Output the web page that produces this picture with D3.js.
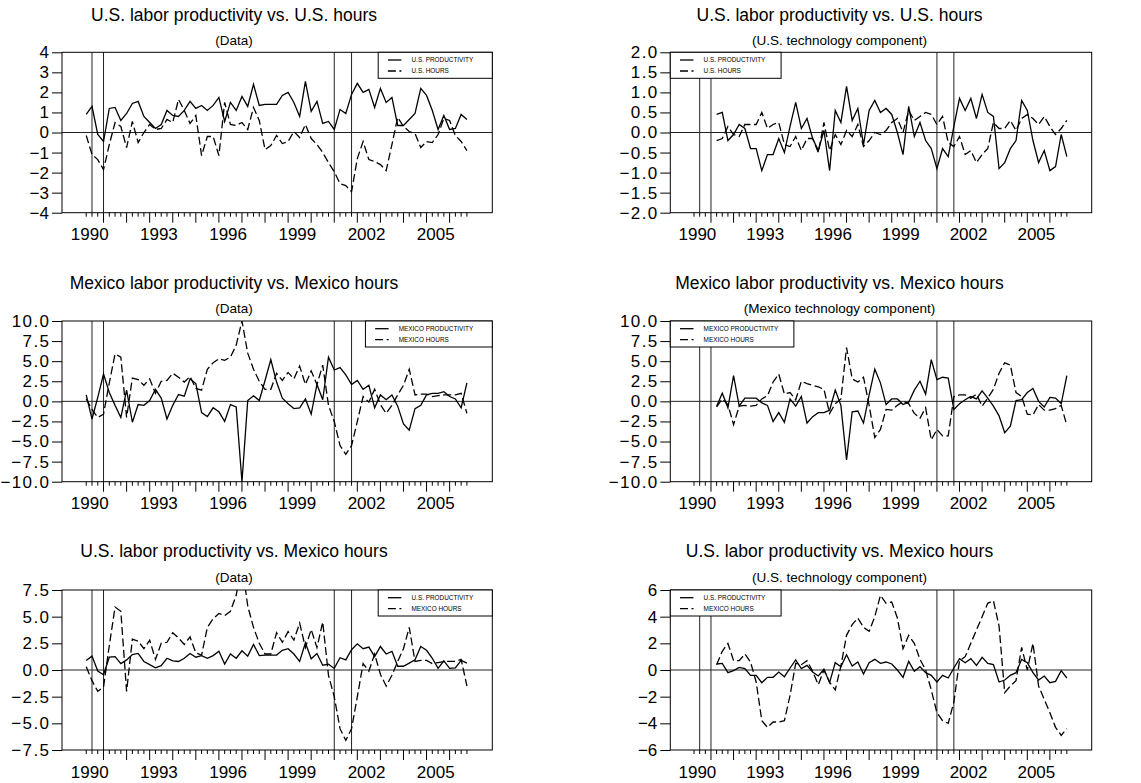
<!DOCTYPE html>
<html>
<head>
<meta charset="utf-8">
<script src="https://cdn.jsdelivr.net/npm/d3@7"></script>
<style>
  body { margin: 0; background: #fff; }
  svg { display: block; font-family: "Liberation Sans", Arial, Helvetica, sans-serif; }
</style>
</head>
<body>
<svg id="chart" width="1141" height="783"></svg>
<script>
// quarterly series, Data panels start 1990Q2, technology-component panels 1991Q2
const dataStart = 1990.25;
const techStart = 1991.25;

const yearLabels = ["1990", "1993", "1996", "1999", "2002", "2005"];
const recessionDates = [1990.5, 1991.0, 2001.0, 2001.75];

const yTicksUsData = [-4, -3, -2, -1, 0, 1, 2, 3, 4];
const yTicksUsTech = [-2.0, -1.5, -1.0, -0.5, 0.0, 0.5, 1.0, 1.5, 2.0];
const yTicksMx = [-10.0, -7.5, -5.0, -2.5, 0.0, 2.5, 5.0, 7.5, 10.0];
const yTicksMix = [-7.5, -5.0, -2.5, 0.0, 2.5, 5.0, 7.5];
const yTicksMixTech = [-6, -4, -2, 0, 2, 4, 6];

const usProd = [0.9, 1.3, -0.1, -0.45, 1.2, 1.25, 0.6, 0.95, 1.45, 1.55,
  0.8, 0.5, 0.2, 0.4, 1.1, 0.85, 0.8, 1.1, 1.55, 1.2,
  1.35, 1.1, 1.35, 1.75, 0.55, 1.5, 1.1, 1.8, 1.3, 2.4,
  1.35, 1.4, 1.4, 1.4, 1.85, 2.0, 1.5, 0.8, 2.55, 1.05,
  1.55, 0.45, 0.55, 0.15, 1.15, 0.95, 1.9, 2.45, 2.0, 2.15,
  1.25, 2.2, 1.5, 1.75, 0.35, 0.35, 0.65, 0.95, 2.2, 1.85,
  1.1, 0.15, 0.85, 0.15, 0.2, 0.9, 0.65];

const usHours = [-0.15, -1.1, -1.35, -1.85, -0.6, 0.5, 0.3, -0.75, 0.55, -0.5,
  0.0, 0.4, 0.15, 0.2, 0.65, 0.5, 1.65, 1.1, 0.45, 0.85,
  -1.15, -0.2, -0.2, -1.15, 1.5, 0.4, 0.35, 0.5, 0.15, 1.25,
  0.6, -0.85, -0.65, -0.15, -0.55, -0.45, 0.05, -0.25, 0.4, -0.3,
  -0.6, -1.0, -1.5, -1.95, -2.55, -2.65, -2.95, -1.3, -0.45, -1.35,
  -1.45, -1.6, -1.9, -0.6, 0.75, 0.3, 0.05, -0.05, -0.75, -0.45,
  -0.5, -0.1, 0.7, 0.6, -0.15, -0.45, -0.9];

const mxProd = [0.8, -2.2, 0.5, 3.4, 1.1, -0.5, -2.0, 1.4, -2.6, -0.4,
  -0.5, 0.1, 1.5, 0.4, -2.2, -0.5, 0.85, 0.65, 2.8, 2.2,
  -1.4, -1.9, -0.8, -1.3, -2.5, -0.4, -0.7, -10.0, 0.1, 0.7,
  0.1, 2.6, 5.2, 2.4, 0.4, -0.3, -0.9, -0.8, 0.3, -1.6,
  2.1, 0.2, 5.5, 3.9, 4.2, 3.3, 2.1, 2.6, 1.5, 2.0,
  -0.8, 0.8, 0.2, 0.8, -0.6, -2.8, -3.6, -0.9, -0.5, 0.8,
  1.0, 1.0, 1.2, 0.6, 0.3, -0.8, 2.3];

const mxHours = [0.3, -1.0, -2.0, -1.6, 2.3, 5.9, 5.5, -2.0, 2.9, 2.7,
  2.0, 2.8, 1.0, 2.5, 2.6, 3.5, 3.0, 2.4, 3.1, 1.6,
  1.4, 4.0, 4.8, 5.3, 5.1, 5.5, 7.0, 10.0, 6.0, 4.0,
  2.5, 1.5, 1.5, 3.5, 2.6, 3.6, 2.8, 4.4, 2.1, 3.8,
  2.1, 4.5, -0.5, -2.5, -5.5, -6.6, -5.5, -2.5, 0.6, -0.1,
  1.5, -0.4, -1.5, -0.5, 0.8, 2.0, 4.0, 0.8, 0.9, 0.9,
  0.6, 0.7, 0.8, 0.8, 0.8, 1.0, -1.5];

const usProdTech = [0.45, 0.5, -0.2, -0.05, 0.2, 0.1, -0.4, -0.4, -0.95, -0.55,
  -0.55, -0.15, -0.5, 0.15, 0.75, 0.1, 0.35, -0.15, -0.45, 0.05,
  -0.95, 0.55, 0.25, 1.15, 0.3, 0.6, -0.3, 0.55, 0.8, 0.5,
  0.6, 0.45, 0.0, -0.55, 0.65, -0.1, 0.25, -0.2, -0.4, -0.9,
  -0.4, -0.6, 0.15, 0.85, 0.55, 0.85, 0.35, 0.95, 0.5, 0.4,
  -0.9, -0.75, -0.4, -0.2, 0.8, 0.55, -0.2, -0.75, -0.45, -0.95,
  -0.85, -0.05, -0.6];

const usHoursTech = [-0.2, -0.15, 0.15, -0.05, -0.1, 0.2, 0.2, 0.2, 0.5, 0.1,
  0.2, 0.25, -0.3, -0.35, -0.1, -0.45, -0.15, -0.15, -0.5, 0.25,
  -0.45, -0.05, -0.3, 0.05, -0.1, 0.2, -0.35, -0.2, 0.0, -0.05,
  0.05, 0.25, 0.35, 0.0, 0.55, 0.3, 0.4, 0.5, 0.45, 0.2,
  0.4, -0.25, -0.35, -0.1, -0.55, -0.45, -0.75, -0.55, -0.4, 0.25,
  0.1, 0.1, 0.3, 0.05, 0.35, 0.45, 0.35, 0.2, 0.4, 0.15,
  -0.05, 0.1, 0.3];

const mxProdTech = [-0.6, 1.0, -0.8, 3.2, -0.6, 0.4, 0.4, 0.4, -0.2, -0.5,
  -2.5, -1.4, -2.6, 0.3, -0.6, 0.6, -2.7, -1.9, -1.4, -1.4,
  -1.1, 1.4, -0.5, -7.3, -1.3, -1.2, -2.7, 0.8, 4.0, 2.3,
  -0.4, 0.3, 0.3, -0.4, -0.1, 1.4, 2.5, 0.9, 5.2, 2.7,
  3.0, 2.9, -1.0, -0.3, 0.2, 0.6, 0.3, 1.3, 0.4, -0.6,
  -1.8, -3.9, -3.1, 0.1, 0.2, 1.1, 1.6, 0.0, -0.7, 0.5,
  0.4, -0.3, 3.2];

const mxHoursTech = [-0.7, 0.3, -0.4, -2.9, -0.6, -0.5, -0.6, -0.5, 0.3, 0.7,
  2.4, 3.4, 0.9, 1.1, 0.2, 2.5, 2.2, 2.0, 1.8, 1.5,
  -1.5, -0.3, 0.3, 6.7, 2.8, 2.4, 3.0, -0.5, -4.5, -3.5,
  -1.0, -1.1, -0.5, 0.0, -0.3, -1.5, -2.1, -0.8, -4.8, -3.5,
  -4.3, -4.3, 0.6, 0.8, 0.8, 0.4, 0.9, -0.6, 0.4, 1.5,
  3.5, 4.8, 4.5, 1.1, 0.6, -1.6, -1.7, -0.4, -1.1, -1.1,
  -0.9, -0.5, -3.0];

const mxHoursUsTech = [0.4, 1.4, 2.0, 0.7, 0.7, 1.2, 0.6, -0.9, -3.8, -4.3,
  -3.9, -3.9, -3.8, -1.9, 0.5, 0.4, 0.7, -0.1, -1.1, 0.0,
  -0.9, -1.5, 0.3, 2.6, 3.4, 3.9, 3.2, 2.9, 4.0, 5.6,
  5.0, 5.1, 3.9, 1.6, 2.6, 2.0, 0.8, 0.0, -1.5, -3.2,
  -3.8, -4.0, -2.4, 0.7, 1.0, 2.0, 3.0, 4.0, 5.0, 5.2,
  3.3, -1.7, -1.2, -0.8, 1.7, 0.0, 2.0, -1.2, -2.2, -3.2,
  -4.3, -4.9, -4.4];

const panels = [
  { col: 0, row: 0, title: "U.S. labor productivity vs. U.S. hours", sub: "(Data)",
    yTicks: yTicksUsData, fmt: d3.format("d"), start: dataStart, solid: usProd, dashed: usHours,
    legend: ["U.S. PRODUCTIVITY", "U.S. HOURS"] },
  { col: 1, row: 0, title: "U.S. labor productivity vs. U.S. hours", sub: "(U.S. technology component)",
    yTicks: yTicksUsTech, fmt: d3.format(".1f"), start: techStart, solid: usProdTech, dashed: usHoursTech,
    legend: ["U.S. PRODUCTIVITY", "U.S. HOURS"] },
  { col: 0, row: 1, title: "Mexico labor productivity vs. Mexico hours", sub: "(Data)",
    yTicks: yTicksMx, fmt: d3.format(".1f"), start: dataStart, solid: mxProd, dashed: mxHours,
    legend: ["MEXICO PRODUCTIVITY", "MEXICO HOURS"] },
  { col: 1, row: 1, title: "Mexico labor productivity vs. Mexico hours", sub: "(Mexico technology component)",
    yTicks: yTicksMx, fmt: d3.format(".1f"), start: techStart, solid: mxProdTech, dashed: mxHoursTech,
    legend: ["MEXICO PRODUCTIVITY", "MEXICO HOURS"] },
  { col: 0, row: 2, title: "U.S. labor productivity vs. Mexico hours", sub: "(Data)",
    yTicks: yTicksMix, fmt: d3.format(".1f"), start: dataStart, solid: usProd, dashed: mxHours,
    legend: ["U.S. PRODUCTIVITY", "MEXICO HOURS"] },
  { col: 1, row: 2, title: "U.S. labor productivity vs. Mexico hours", sub: "(U.S. technology component)",
    yTicks: yTicksMixTech, fmt: d3.format("d"), start: techStart, solid: usProdTech, dashed: mxHoursUsTech,
    legend: ["U.S. PRODUCTIVITY", "MEXICO HOURS"] }
];

// layout
const cols = [
  { left: 62, right: 492.3, titleX: 234, legendRight: true },
  { left: 670.3, right: 1091.7, titleX: 839.5, legendRight: false }
];
const rows = [
  { top: 52.3, bottom: 212.7, titleY: 21, subY: 45 },
  { top: 321, bottom: 481.7, titleY: 288.5, subY: 313 },
  { top: 590, bottom: 750, titleY: 557, subY: 581.7 }
];
const xDomain = [1989.2, 2007.85];
const lastQuarter = 2006.75;
const dash = "8,3.5";

const svg = d3.select("#chart");

panels.forEach((p, k) => {
  const c = cols[p.col], r = rows[p.row];
  const x = d3.scaleLinear().domain(xDomain).range([c.left, c.right]);
  const y = d3.scaleLinear().domain(d3.extent(p.yTicks)).range([r.bottom, r.top]);
  const g = svg.append("g");

  // titles
  g.append("text").attr("x", c.titleX).attr("y", r.titleY)
    .attr("text-anchor", "middle").attr("font-size", 17.5).text(p.title);
  g.append("text").attr("x", c.titleX).attr("y", r.subY)
    .attr("text-anchor", "middle").attr("font-size", 13.5).text(p.sub);

  // y axis
  const yAxis = g.append("g").attr("transform", `translate(${c.left},0)`)
    .call(d3.axisLeft(y).tickValues(p.yTicks).tickFormat(p.fmt).tickSize(10).tickPadding(3));
  yAxis.select(".domain").remove();
  yAxis.selectAll("line").attr("stroke", "#000");
  yAxis.selectAll("text").attr("font-size", 17).attr("font-family", null).attr("fill", "#000")
    .attr("letter-spacing", d => Number.isInteger(d) && p.fmt(d).indexOf(".") < 0 ? null : 1.4)
    .attr("dx", d => p.fmt(d).indexOf(".") < 0 ? null : 1.4);

  // x ticks: quarterly minor, yearly major
  const quarters = d3.range(dataStart, lastQuarter + 0.01, 0.25);
  g.append("g").selectAll("line").data(quarters).join("line")
    .attr("x1", d => x(d)).attr("x2", d => x(d))
    .attr("y1", r.bottom)
    .attr("y2", d => r.bottom + (Math.abs(d - Math.round(d)) < 0.01 ? 10 : 4))
    .attr("stroke", "#000").attr("stroke-width", 1);
  g.append("g").selectAll("text").data(yearLabels).join("text")
    .attr("x", d => x(+d + 0.4))
    .attr("y", r.bottom + 27.5)
    .attr("text-anchor", "middle").attr("font-size", 17).text(d => d);

  // clip
  const clipId = "clip" + k;
  svg.append("clipPath").attr("id", clipId).append("rect")
    .attr("x", c.left).attr("y", r.top).attr("width", c.right - c.left).attr("height", r.bottom - r.top);

  const plot = g.append("g").attr("clip-path", `url(#${clipId})`);

  // zero line
  plot.append("line").attr("x1", c.left).attr("x2", c.right)
    .attr("y1", y(0)).attr("y2", y(0)).attr("stroke", "#222").attr("stroke-width", 1);

  // recession markers
  plot.selectAll(".rec").data(recessionDates).join("line")
    .attr("x1", d => x(d)).attr("x2", d => x(d))
    .attr("y1", r.top).attr("y2", r.bottom)
    .attr("stroke", "#222").attr("stroke-width", 1);

  const line = d3.line().x((d, i) => x(p.start + i * 0.25)).y(d => y(d));
  plot.append("path").datum(p.dashed).attr("d", line)
    .attr("fill", "none").attr("stroke", "#000").attr("stroke-width", 1.3)
    .attr("stroke-dasharray", dash);
  plot.append("path").datum(p.solid).attr("d", line)
    .attr("fill", "none").attr("stroke", "#000").attr("stroke-width", 1.3);

  // frame
  g.append("rect").attr("x", c.left).attr("y", r.top)
    .attr("width", c.right - c.left).attr("height", r.bottom - r.top)
    .attr("fill", "none").attr("stroke", "#000").attr("stroke-width", 1);

  // legend
  const lg = g.append("g");
  const box = lg.append("rect").attr("fill", "#fff").attr("stroke", "#000").attr("stroke-width", 1);
  const labels = lg.selectAll("text").data(p.legend).join("text")
    .attr("font-size", 6.4).attr("y", (d, i) => r.top + 10 + i * 11).text(d => d);
  const tw = d3.max(labels.nodes(), n => n.getComputedTextLength());
  const lw = 33.3 + tw + (c.legendRight ? 19 : 15.7);
  const lx = c.legendRight ? c.right - lw : c.left;
  box.attr("x", lx).attr("y", r.top).attr("width", lw).attr("height", 26);
  labels.attr("x", lx + 33.3);
  lg.selectAll("line").data(p.legend).join("line")
    .attr("x1", lx + 9.7).attr("x2", lx + 23.2)
    .attr("y1", (d, i) => r.top + 7.7 + i * 11).attr("y2", (d, i) => r.top + 7.7 + i * 11)
    .attr("stroke", "#000").attr("stroke-width", 1.3)
    .attr("stroke-dasharray", (d, i) => i ? dash : null);
});
</script>
</body>
</html>
